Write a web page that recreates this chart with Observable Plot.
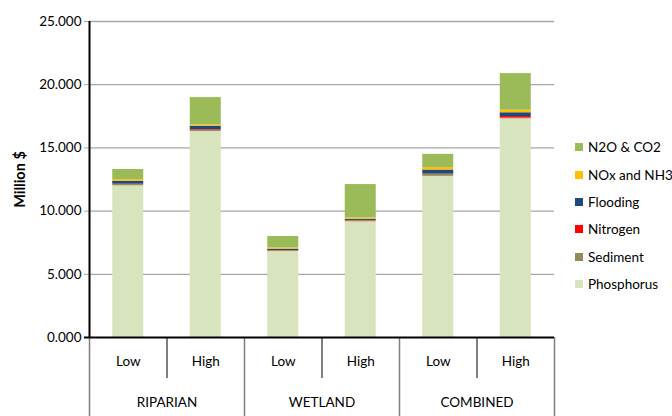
<!DOCTYPE html>
<html><head><meta charset="utf-8">
<script src="https://cdn.jsdelivr.net/npm/d3@7"></script>
<script src="https://cdn.jsdelivr.net/npm/@observablehq/plot@0.6"></script>
<style>
body{margin:0;background:#fff;font-family:Lato,"Noto Sans",sans-serif}
#wrap{position:relative;width:672px;height:416px}
#legend{position:absolute;left:575px;top:133.7px;font-family:Lato,sans-serif;font-size:13.5px;color:#000}
.item{height:27.3px;display:flex;align-items:center;white-space:nowrap}
.sw{width:8px;height:8px;margin-right:5px;flex:none}
</style></head><body><div id="wrap"></div>
<script>
// Categories
const groups = ["RIPARIAN", "WETLAND", "COMBINED"];
const levels = ["Low", "High"];
// Series (bottom to top of stack)
const series = ["Phosphorus", "Sediment", "Nitrogen", "Flooding", "NOx and NH3", "N2O & CO2"];
const colors = ["#D7E4BD", "#948A54", "#FF0000", "#1F497D", "#FFC000", "#9BBB59"];
// Values (thousands, shown as "x.000" Million $), order: Riparian Low, High, Wetland Low, High, Combined Low, High
const phosphorus = [12.0, 16.3, 6.8, 9.15, 12.75, 17.3];
const sediment   = [0.1, 0.1, 0.05, 0.08, 0.15, 0.06];
const nitrogen   = [0.03, 0.05, 0.02, 0.03, 0.03, 0.12];
const flooding   = [0.24, 0.27, 0.12, 0.1, 0.32, 0.3];
const noxNh3     = [0.12, 0.1, 0.1, 0.1, 0.19, 0.2];
const n2oCo2     = [0.8, 2.16, 0.9, 2.64, 1.05, 2.9];
const yTicks = [0, 5, 10, 15, 20, 25];

const seriesValues = [phosphorus, sediment, nitrogen, flooding, noxNh3, n2oCo2];

const bars = [];
groups.forEach((g, gi) => levels.forEach((l, li) => bars.push({i: gi * 2 + li, group: g, level: l})));

const rows = [];
series.forEach((s, si) => bars.forEach(b => rows.push({i: b.i, series: s, value: seriesValues[si][b.i]})));

const half = 0.2;
const belowShort = -3.25, belowLong = -6.3, levelY = -1.95, groupY = -5.12;

const groupInfo = groups.map((g, gi) => ({g, mid: gi * 2 + 0.5}));
const bounds = d3.range(groups.length + 1).map(k => k * 2 - 0.5);

const chart = Plot.plot({
  width: 672, height: 416,
  marginLeft: 89, marginRight: 118, marginTop: 21, marginBottom: 79,
  style: {fontFamily: "Lato, sans-serif", fontSize: "13.5px", color: "#000", background: "#fff"},
  x: {domain: [-0.5, 5.5], axis: null},
  y: {domain: [0, 25], axis: null},
  color: {domain: series, range: colors},
  marks: [
    Plot.ruleY(yTicks.slice(1), {stroke: "#a6a6a6", strokeWidth: 1.3}),
    Plot.axisY({ticks: yTicks, label: null, tickSize: 5, tickPadding: 3, tickFormat: d3.format(".3f"), stroke: "#a6a6a6", fill: "#000", fontSize: 13.5}),
    Plot.rectY(rows, {x1: d => d.i - half, x2: d => d.i + half, y: "value", fill: "series", order: series}),
    Plot.ruleX([-0.5], {y1: 0, y2: 25, stroke: "#000", strokeWidth: 2}),
    Plot.ruleX(bounds, {y1: 0, y2: belowLong, stroke: "#7f7f7f", strokeWidth: 1.5}),
    Plot.ruleX(groupInfo, {x: "mid", y1: 0, y2: belowShort, stroke: "#555", strokeWidth: 1.5}),
    Plot.ruleY([0], {x1: -0.5 - 0.065, x2: 5.5, stroke: "#000", strokeWidth: 2}),
    Plot.text(bars, {x: "i", y: levelY, text: "level", fontSize: 13.5, fill: "#000"}),
    Plot.text(groupInfo, {x: "mid", y: groupY, text: "g", fontSize: 13.5, fill: "#000"}),
    Plot.text(["Million $"], {frameAnchor: "left", textAnchor: "middle", dx: -69, rotate: -90, fontWeight: "bold", fontSize: 14.5, fill: "#000"})
  ]
});
const wrap = document.getElementById("wrap");
wrap.appendChild(chart);

const legend = document.createElement("div");
legend.id = "legend";
series.slice().reverse().forEach((s) => {
  const idx = series.indexOf(s);
  const it = document.createElement("div");
  it.className = "item";
  const sw = document.createElement("span");
  sw.className = "sw";
  sw.style.background = colors[idx];
  it.appendChild(sw);
  it.appendChild(document.createTextNode(s));
  legend.appendChild(it);
});
wrap.appendChild(legend);
</script>
</body></html>
